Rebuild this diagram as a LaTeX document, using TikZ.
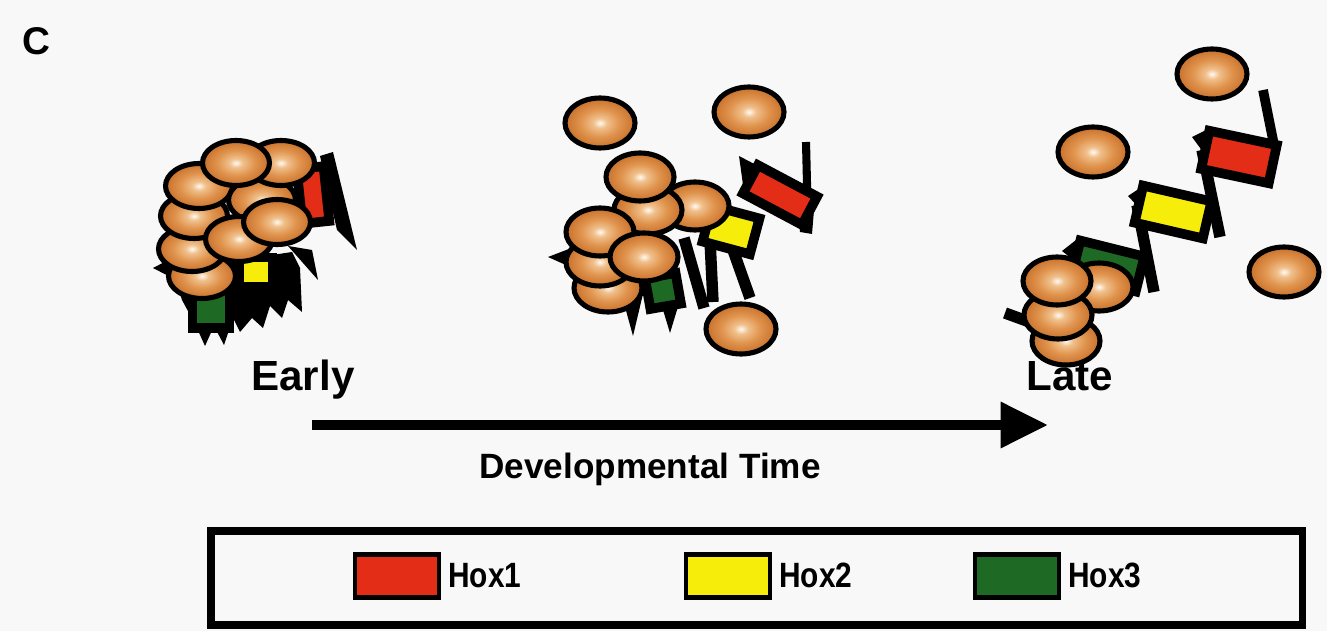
\documentclass[tikz,border=0pt]{standalone}
\usepackage{fontspec}
\setmainfont{Liberation Sans}
\usepackage{graphicx}
\usetikzlibrary{arrows.meta,positioning}
\definecolor{paper}{RGB}{249,248,248}
\definecolor{hoxred}{RGB}{228,45,22}
\definecolor{hoxyellow}{RGB}{246,238,10}
\definecolor{hoxgreen}{RGB}{30,105,36}
\definecolor{cellhi}{RGB}{255,249,242}
\definecolor{cellmid}{RGB}{240,192,140}
\definecolor{cellbody}{RGB}{224,148,78}
\definecolor{cellrim}{RGB}{200,112,42}
\pgfdeclareradialshading{cellshade}{\pgfpoint{0bp}{0bp}}{color(0bp)=(cellhi); color(5bp)=(cellmid); color(14bp)=(cellbody); color(25bp)=(cellrim); color(50bp)=(cellrim)}
\tikzset{
  cell/.style={draw=black, line width=2.9pt, shading=cellshade},
  gene/.style={draw=black, line width=5.5pt, inner sep=0pt, outer sep=0pt},
  stem/.style={line width=6.5pt},
  swatch/.style={draw=black, line width=2.8pt, minimum width=1.68cm, minimum height=0.86cm, inner sep=0pt},
  hoxlabel/.style={font=\fontsize{20}{20}\selectfont\bfseries, inner sep=0pt, anchor=base west},
  biglabel/.style={font=\fontsize{24}{24}\selectfont\bfseries, inner sep=0pt, anchor=base},
}
\begin{document}
\begin{tikzpicture}[x=0.02cm, y=-0.02cm]
\fill[paper] (0,0) rectangle (1327,631);
\node[font=\fontsize{22}{22}\selectfont\bfseries, inner sep=0pt, anchor=base] (panel) at (36,55) {C};

% early: packed chromatin
\fill (320,156) -- (333,152) -- (357,250) -- (337,230) -- cycle;
\fill (288,246) -- (312,250) -- (318,280) -- cycle;
\fill (153,268) -- (176,256) -- (180,282) -- cycle;
\fill (172,270) -- (292,252) -- (300,268) -- (302,312) -- (288,300) -- (282,318) -- (270,306) -- (263,328) -- (252,318) -- (240,332) -- (233,318) -- (224,345) -- (214,326) -- (205,346) -- (196,326) -- (182,300) -- cycle;
\node[gene, fill=hoxred, minimum width=0.54cm, minimum height=1.1cm, rotate=6] (e1) at (313,195) {};
\node[gene, fill=hoxyellow, minimum width=0.66cm, minimum height=0.58cm] (e2) at (256,272) {};
\node[gene, fill=hoxgreen, minimum width=0.74cm, minimum height=0.8cm] (e3) at (211,308) {};
\draw[cell] (202,276) ellipse (0.67cm and 0.45cm);
\draw[cell] (192,249) ellipse (0.67cm and 0.45cm);
\draw[cell] (194,216) ellipse (0.67cm and 0.45cm);
\draw[cell] (199,186) ellipse (0.67cm and 0.45cm);
\draw[cell] (262,200) ellipse (0.67cm and 0.45cm);
\draw[cell] (281,163) ellipse (0.67cm and 0.45cm);
\draw[cell] (236,163) ellipse (0.67cm and 0.45cm);
\draw[cell] (239,239) ellipse (0.67cm and 0.45cm);
\draw[cell] (277,222) ellipse (0.67cm and 0.45cm);

% middle: opening up
\draw[stem] (684,238) -- (704,308);
\draw[stem] (710,240) -- (713,302);
\draw[stem] (733,250) -- (750,298);
\draw[line width=4.6pt] (806,142) -- (808,226);
\fill (739,156) -- (762,168) -- (744,192) -- cycle;
\fill (548,257) -- (574,247) -- (577,270) -- cycle;
\fill (622,296) -- (642,298) -- (633,336) -- cycle;
\fill (660,300) -- (680,300) -- (670,333) -- cycle;
\fill (798,212) -- (814,210) -- (812,234) -- (800,232) -- cycle;
\node[gene, fill=hoxred, minimum width=1.34cm, minimum height=0.64cm, rotate=-28] (m1) at (780,195) {};
\node[gene, fill=hoxyellow, minimum width=0.98cm, minimum height=0.74cm, rotate=-15] (m2) at (731,230) {};
\node[gene, fill=hoxgreen, minimum width=0.62cm, minimum height=0.62cm, rotate=10] (m3) at (663,291) {};
\draw[cell] (600,123) ellipse (0.7cm and 0.5cm);
\draw[cell] (749,112) ellipse (0.7cm and 0.5cm);
\draw[cell] (741,329) ellipse (0.7cm and 0.5cm);
\draw[cell] (695,206) ellipse (0.68cm and 0.48cm);
\draw[cell] (648,210) ellipse (0.68cm and 0.48cm);
\draw[cell] (640,177) ellipse (0.68cm and 0.48cm);
\draw[cell] (608,288) ellipse (0.68cm and 0.48cm);
\draw[cell] (600,262) ellipse (0.68cm and 0.48cm);
\draw[cell] (600,232) ellipse (0.68cm and 0.48cm);
\draw[cell] (644,257) ellipse (0.68cm and 0.48cm);

% late: stretched out
\draw[stem] (1005,313) -- (1060,333);
\draw[stem] (1202,150) -- (1220,237);
\draw[stem] (1137,205) -- (1154,292);
\draw[line width=5.5pt] (1263,90) -- (1275,150);
\fill (1192,137) -- (1208,129) -- (1206,156) -- cycle;
\fill (1128,196) -- (1143,186) -- (1142,211) -- cycle;
\fill (1062,251) -- (1076,240) -- (1076,262) -- cycle;
\node[gene, fill=hoxred, minimum width=1.38cm, minimum height=0.78cm, rotate=-12] (l1) at (1239,157) {};
\node[gene, fill=hoxyellow, minimum width=1.4cm, minimum height=0.76cm, rotate=-13] (l2) at (1173,212) {};
\node[gene, fill=hoxgreen, minimum width=1.32cm, minimum height=0.72cm, rotate=-14] (l3) at (1108,266) {};
\draw[cell] (1212,74) ellipse (0.7cm and 0.5cm);
\draw[cell] (1093,152) ellipse (0.7cm and 0.5cm);
\draw[cell] (1284,272) ellipse (0.7cm and 0.5cm);
\draw[cell] (1099,287) ellipse (0.68cm and 0.48cm);
\draw[cell] (1066,341) ellipse (0.68cm and 0.48cm);
\draw[cell] (1058,315) ellipse (0.68cm and 0.48cm);
\draw[cell] (1057,281) ellipse (0.68cm and 0.48cm);

\node[biglabel] (early) at (303,390) {Early};
\node[biglabel] (late) at (1070,390) {Late};
\coordinate (tstart) at (312,425);
\coordinate (tend) at (1048,425);
\draw[line width=5.7pt, -{Triangle[length=27pt,width=25pt]}] (tstart) -- (tend);
\node[font=\fontsize{20}{20}\selectfont\bfseries, inner sep=0pt, anchor=base] (devtime) at (650,478) {Developmental Time};

\draw[line width=4pt] (211,531) rectangle (1302,625);
\node[swatch, fill=hoxred] (hox1) at (397,576) {};
\node[hoxlabel] (hox1label) at (448,587) {\scalebox{0.85}[1]{Hox1}};
\node[swatch, fill=hoxyellow] (hox2) at (728,576) {};
\node[hoxlabel] (hox2label) at (779,587) {\scalebox{0.85}[1]{Hox2}};
\node[swatch, fill=hoxgreen] (hox3) at (1017,576) {};
\node[hoxlabel] (hox3label) at (1068,587) {\scalebox{0.85}[1]{Hox3}};
\end{tikzpicture}
\end{document}
